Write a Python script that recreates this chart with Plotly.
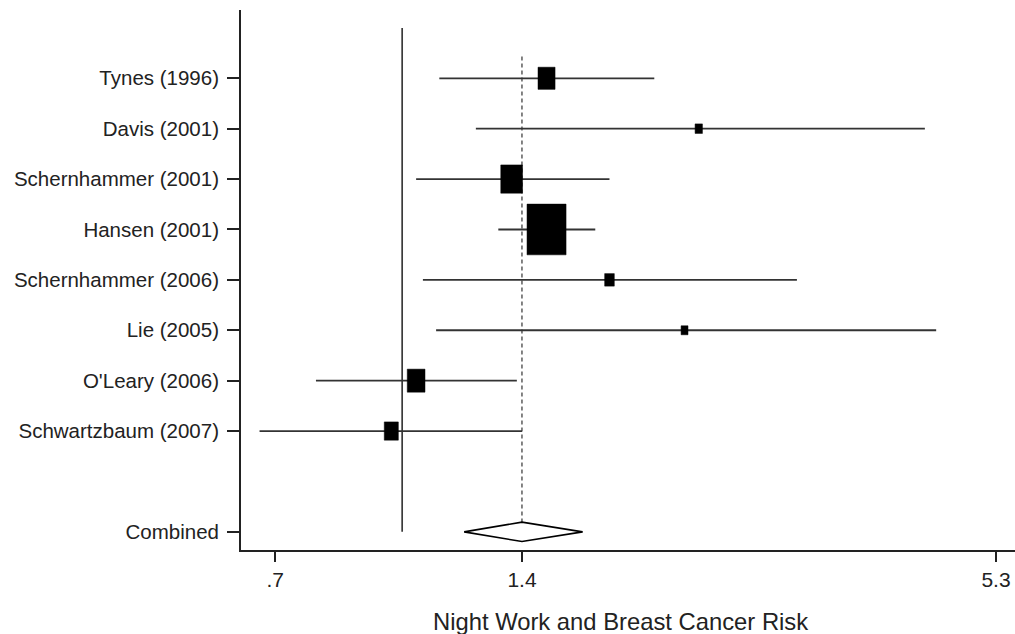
import math
import plotly.graph_objects as go

# ---- data ----
studies = ["Tynes (1996)", "Davis (2001)", "Schernhammer (2001)", "Hansen (2001)",
           "Schernhammer (2006)", "Lie (2005)", "O'Leary (2006)", "Schwartzbaum (2007)"]
rr = [1.50, 2.30, 1.36, 1.50, 1.79, 2.21, 1.04, 0.97]
ci_low = [1.11, 1.23, 1.04, 1.31, 1.06, 1.10, 0.785, 0.67]
ci_high = [2.03, 4.34, 1.79, 1.72, 3.03, 4.48, 1.38, 1.40]
weights = [9.7, 1.8, 15.8, 50.9, 3.1, 1.6, 10.5, 6.6]   # percent weight (box area)
combined_label = "Combined"
combined_rr = 1.40
combined_low = 1.19
combined_high = 1.66
tick_values = [0.7, 1.4, 5.3]
tick_labels = [".7", "1.4", "5.3"]
x_title = "Night Work and Breast Cancer Risk"

# ---- layout geometry ----
W, H = 1015, 634
ML, MR, MT, MB = 241, 0, 10, 84
x_range = [math.log10(0.636), math.log10(5.59)]
y_range = [10.36, -0.355]
plot_w = W - ML - MR
plot_h = H - MT - MB
px_per_log10 = plot_w / (x_range[1] - x_range[0])
px_per_y = plot_h / (y_range[0] - y_range[1])

ypos = list(range(1, len(studies) + 1))
y_comb = len(studies) + 2

fig = go.Figure()

# null line at 1
fig.add_trace(go.Scatter(x=[1, 1], y=[0, y_comb], mode="lines",
                         line=dict(color="#3a3a3a", width=1.7), hoverinfo="skip"))
# overall effect dashed line
fig.add_trace(go.Scatter(x=[combined_rr, combined_rr], y=[0.57, y_comb - 0.19], mode="lines",
                         line=dict(color="#333333", width=1.2, dash="4px,3px"), hoverinfo="skip"))

# confidence intervals
cx, cy = [], []
for lo, hi, y in zip(ci_low, ci_high, ypos):
    cx += [lo, hi, None]
    cy += [y, y, None]
fig.add_trace(go.Scatter(x=cx, y=cy, mode="lines",
                         line=dict(color="#333333", width=1.8), hoverinfo="skip"))

# weight boxes
k = 5.47
for est, w, y in zip(rr, weights, ypos):
    wpx = k * math.sqrt(w)
    hpx = 1.3 * wpx
    hw = (wpx / 2) / px_per_log10
    hh = (hpx / 2) / px_per_y
    x0 = est * 10 ** (-hw)
    x1 = est * 10 ** (hw)
    fig.add_trace(go.Scatter(x=[x0, x1, x1, x0, x0], y=[y - hh, y - hh, y + hh, y + hh, y - hh],
                             mode="lines", fill="toself", fillcolor="black",
                             line=dict(color="black", width=0.5), hoverinfo="skip"))

# combined diamond
dh = 9.7 / px_per_y
fig.add_trace(go.Scatter(x=[combined_low, combined_rr, combined_high, combined_rr, combined_low],
                         y=[y_comb, y_comb - dh, y_comb, y_comb + dh, y_comb],
                         mode="lines", fill="toself", fillcolor="white",
                         line=dict(color="black", width=1.6), hoverinfo="skip"))

font_family = "Liberation Sans, Arial, sans-serif"
fig.update_layout(
    width=W, height=H,
    margin=dict(l=ML, r=MR, t=MT, b=MB, autoexpand=False),
    paper_bgcolor="white", plot_bgcolor="white",
    showlegend=False,
    font=dict(family=font_family, size=20.5, color="#222222"),
    xaxis=dict(type="log", range=x_range, tickvals=tick_values, ticktext=tick_labels,
               automargin=False,
               showgrid=False, zeroline=False, showline=True, linecolor="#222222", linewidth=1.8,
               ticks="outside", ticklen=10, tickwidth=1.5, tickcolor="#222222",
               tickfont=dict(size=21)),
    yaxis=dict(range=y_range, tickvals=ypos + [y_comb], ticktext=studies + [combined_label],
               automargin=False,
               showgrid=False, zeroline=False, showline=True, linecolor="#222222", linewidth=1.8,
               ticks="outside", ticklen=12, tickwidth=1.5, tickcolor="#222222",
               ticklabelstandoff=4,
               tickfont=dict(size=20.5)),
    annotations=[dict(text=x_title, xref="paper", yref="paper",
                      x=(620 - ML) / plot_w, y=-(621 - (H - MB)) / plot_h,
                      xanchor="center", yanchor="middle", showarrow=False,
                      font=dict(size=23.8, color="#222222"))],
)

fig.write_html("out.html", config={"displayModeBar": False},
               post_script="document.body.style.margin='0px';document.body.style.overflow='hidden';")
